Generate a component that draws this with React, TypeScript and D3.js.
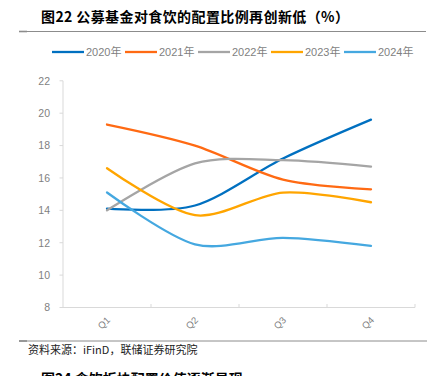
import React from "react";
import * as d3 from "d3";

const categories = ["Q1", "Q2", "Q3", "Q4"];
const seriesNames = ["2020年", "2021年", "2022年", "2023年", "2024年"];
const v2020 = [14.1, 14.3, 17.2, 19.6];
const v2021 = [19.3, 18.0, 15.9, 15.3];
const v2022 = [14.0, 16.9, 17.1, 16.7];
const v2023 = [16.6, 13.7, 15.1, 14.5];
const v2024 = [15.1, 11.9, 12.3, 11.8];
const yTicks = [8, 10, 12, 14, 16, 18, 20, 22];
const colors = ["#0070C0", "#FF6A13", "#A5A5A5", "#FFA500", "#45A8E0"];

const W = 440;
const H = 376;

export default function App() {
  const seriesVals = [v2020, v2021, v2022, v2023, v2024];
  const x = d3.scaleBand<string>().domain(categories).range([63, 415]);
  const y = d3.scaleLinear().domain([8, 22]).range([307.5, 80.8]);
  const line = d3
    .line<number>()
    .x((_, i) => (x(categories[i]) as number) + x.bandwidth() / 2)
    .y((d) => y(d))
    .curve(d3.curveCardinal.tension(0.1));
  const sans = "'Liberation Sans', Arial, 'Noto Sans CJK SC', sans-serif";
  const cjk = "'Noto Sans CJK SC', sans-serif";
  const axisColor = "#D9D9D9";
  const tickText = "#7F7F7F";
  const legendX0 = 52;
  const legendStep = 73;
  return (
    <svg
      width={W}
      height={H}
      style={{ position: "absolute", left: 0, top: 0, background: "#fff" }}
    >
      <text x={41} y={22} fontFamily={cjk} fontWeight="bold" fontSize={14} letterSpacing={0.4} fill="#000">
        图22 公募基金对食饮的配置比例再创新低（%）
      </text>
      <line x1={19} x2={426} y1={31.5} y2={31.5} stroke="#8C8C8C" strokeWidth={1} />
      <line x1={19} x2={27} y1={31.5} y2={31.5} stroke="#8C8C8C" strokeWidth={1.6} />

      {seriesNames.map((n, i) => (
        <g key={n} transform={`translate(${legendX0 + i * legendStep},52)`}>
          <line x1={0} x2={32} y1={0} y2={0} stroke={colors[i]} strokeWidth={2.3} />
          <text x={34} y={4} fontFamily={sans} fontSize={11} fill={tickText}>
            {n}
          </text>
        </g>
      ))}

      <line x1={63} x2={63} y1={y(22)} y2={y(8)} stroke={axisColor} strokeWidth={1} />
      {yTicks.map((t) => (
        <g key={t}>
          <line x1={59.5} x2={63} y1={y(t)} y2={y(t)} stroke={axisColor} strokeWidth={1} />
          <text
            x={50}
            y={y(t) + 3.8}
            textAnchor="end"
            fontFamily={sans}
            fontSize={10.5}
            fill={tickText}
          >
            {t}
          </text>
        </g>
      ))}

      <line x1={63} x2={415} y1={y(8)} y2={y(8)} stroke={axisColor} strokeWidth={1} />
      {categories.map((c) => (
        <line
          key={c}
          x1={(x(c) as number) + x.bandwidth()}
          x2={(x(c) as number) + x.bandwidth()}
          y1={y(8)}
          y2={y(8) - 3.5}
          stroke={axisColor}
          strokeWidth={1}
        />
      ))}
      {categories.map((c) => {
        const cx = (x(c) as number) + x.bandwidth() / 2 - 3;
        const cy = 323;
        return (
          <text
            key={c}
            transform={`translate(${cx},${cy}) rotate(-45)`}
            textAnchor="middle"
            dy="0.35em"
            fontFamily={sans}
            fontSize={9.5}
            fill={tickText}
          >
            {c}
          </text>
        );
      })}

      {seriesVals.map((vals, i) => (
        <path
          key={seriesNames[i]}
          d={line(vals) || ""}
          fill="none"
          stroke={colors[i]}
          strokeWidth={2.3}
          strokeLinecap="round"
        />
      ))}

      <line x1={19} x2={427} y1={341} y2={341} stroke="#8C8C8C" strokeWidth={1} />
      <line x1={19} x2={27} y1={341} y2={341} stroke="#8C8C8C" strokeWidth={1.6} />
      <text x={28} y={354} fontFamily={cjk} fontSize={11} fill="#222">
        资料来源：iFinD，联储证券研究院
      </text>
      <text x={41} y={384} fontFamily={cjk} fontWeight="bold" fontSize={14} fill="#000">
        图24 食饮板块配置价值逐渐显现
      </text>
    </svg>
  );
}
